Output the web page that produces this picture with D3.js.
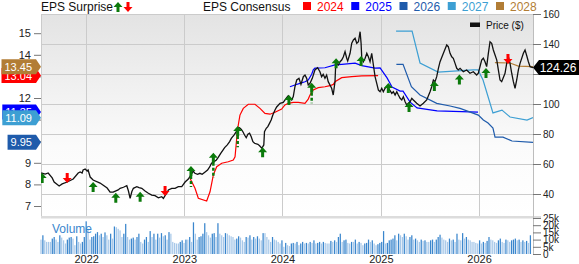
<!DOCTYPE html>
<html>
<head>
<meta charset="utf-8">
<style>
  body { margin: 0; background: #fff; }
  svg { display: block; font-family: "Liberation Sans", Arial, sans-serif; }
</style>
<script src="https://cdn.jsdelivr.net/npm/d3@7"></script>
</head>
<body>
<svg id="chart" width="579" height="264"></svg>
<script>
// Time is kept as decimal years
const price = [
  [2021.542,54.0],[2021.583,53.3],[2021.613,54.0],[2021.654,50.7],[2021.674,48.0],[2021.725,45.3],[2021.756,46.7],
  [2021.807,48.0],[2021.868,50.0],[2021.919,54.0],[2021.939,54.7],[2021.959,54.0],[2021.969,56.0],[2021.990,56.7],
  [2022.010,55.3],[2022.020,56.0],[2022.041,51.3],[2022.071,49.3],[2022.142,47.3],[2022.214,44.0],[2022.244,41.3],
  [2022.275,41.3],[2022.326,42.7],[2022.346,43.8],[2022.380,44.5],[2022.414,45.5],[2022.431,42.0],[2022.448,37.1],
  [2022.465,41.5],[2022.481,43.8],[2022.516,44.9],[2022.539,44.2],[2022.567,43.8],[2022.600,42.0],[2022.634,40.5],
  [2022.668,39.3],[2022.702,38.9],[2022.736,37.5],[2022.770,38.2],[2022.787,37.1],[2022.804,38.9],[2022.821,40.5],
  [2022.838,42.7],[2022.872,43.8],[2022.906,43.8],[2022.939,44.9],[2022.974,44.9],[2023.008,48.0],[2023.041,50.0],
  [2023.068,52.7],[2023.091,55.3],[2023.108,53.8],[2023.135,53.1],[2023.159,53.8],[2023.182,53.1],[2023.209,54.5],
  [2023.237,56.0],[2023.260,58.2],[2023.277,60.5],[2023.303,61.5],[2023.327,62.7],[2023.344,64.2],[2023.371,67.1],
  [2023.394,69.3],[2023.411,70.9],[2023.438,72.7],[2023.462,74.9],[2023.479,77.1],[2023.506,79.3],[2023.530,81.5],
  [2023.546,83.8],[2023.563,84.2],[2023.581,83.1],[2023.597,81.5],[2023.614,79.3],[2023.631,77.5],[2023.648,79.8],
  [2023.665,80.5],[2023.682,78.2],[2023.699,74.9],[2023.716,73.8],[2023.750,73.1],[2023.767,72.2],[2023.790,70.5],
  [2023.810,72.7],[2023.817,81.5],[2023.835,83.8],[2023.851,84.9],[2023.868,87.1],[2023.885,89.3],[2023.902,92.7],
  [2023.924,96.0],[2023.941,98.0],[2023.975,100.5],[2024.008,101.1],[2024.043,104.2],[2024.059,105.5],[2024.076,104.2],
  [2024.094,102.7],[2024.110,104.9],[2024.127,111.5],[2024.145,116.0],[2024.168,117.1],[2024.188,113.1],[2024.212,118.2],
  [2024.229,119.3],[2024.246,117.1],[2024.262,112.7],[2024.280,113.8],[2024.303,117.1],[2024.330,122.7],[2024.357,124.2],
  [2024.381,121.5],[2024.398,118.2],[2024.414,119.8],[2024.432,117.1],[2024.449,119.3],[2024.465,114.9],[2024.500,110.5],
  [2024.516,106.0],[2024.534,114.9],[2024.541,126.0],[2024.551,127.1],[2024.568,126.0],[2024.585,128.2],[2024.602,129.3],
  [2024.619,131.5],[2024.636,134.9],[2024.653,130.5],[2024.663,128.7],[2024.687,133.8],[2024.704,140.5],[2024.721,142.7],
  [2024.738,143.8],[2024.755,140.5],[2024.772,141.5],[2024.789,148.2],[2024.799,140.5],[2024.806,130.5],[2024.822,128.2],
  [2024.840,130.5],[2024.857,133.8],[2024.873,131.5],[2024.890,128.2],[2024.907,133.8],[2024.924,126.0],[2024.941,118.2],
  [2024.958,113.8],[2024.975,109.3],[2024.992,108.2],[2025.009,110.5],[2025.025,108.2],[2025.043,110.5],[2025.060,111.5],
  [2025.076,110.5],[2025.094,108.9],[2025.111,107.1],[2025.127,108.2],[2025.145,106.0],[2025.162,108.2],[2025.178,106.0],
  [2025.196,103.8],[2025.213,102.7],[2025.229,104.9],[2025.247,101.5],[2025.264,99.3],[2025.280,100.5],[2025.298,101.5],
  [2025.315,103.8],[2025.331,102.7],[2025.365,100.5],[2025.399,98.7],[2025.433,100.5],[2025.467,102.7],[2025.501,108.2],
  [2025.518,111.5],[2025.535,116.0],[2025.552,114.9],[2025.569,118.2],[2025.586,123.8],[2025.603,128.2],[2025.637,133.8],
  [2025.671,139.3],[2025.687,138.2],[2025.705,133.8],[2025.722,131.5],[2025.738,130.5],[2025.756,127.1],[2025.773,123.8],
  [2025.789,122.7],[2025.807,123.8],[2025.840,121.5],[2025.874,122.7],[2025.908,120.5],[2025.942,121.5],[2025.976,119.3],
  [2025.993,120.5],[2026.010,124.9],[2026.027,129.3],[2026.044,130.5],[2026.061,128.2],[2026.078,124.9],[2026.095,133.8],
  [2026.112,141.5],[2026.129,140.5],[2026.146,136.0],[2026.181,129.3],[2026.197,122.7],[2026.214,116.0],[2026.231,114.9],
  [2026.265,120.5],[2026.282,127.1],[2026.299,131.5],[2026.316,127.1],[2026.333,120.5],[2026.350,114.9],[2026.367,110.5],
  [2026.384,116.0],[2026.401,122.7],[2026.418,127.1],[2026.452,133.8],[2026.469,136.0],[2026.487,132.0],[2026.503,128.2],
  [2026.520,124.9],[2026.550,124.26]
];

// EPS consensus, one series per fiscal year
const eps2024 = [
  [2023.058,8.28],[2023.109,7.82],[2023.143,7.36],[2023.228,7.23],[2023.262,7.66],[2023.296,8.44],[2023.330,8.82],
  [2023.381,8.98],[2023.448,9.05],[2023.499,9.13],[2023.517,9.28],[2023.534,10.13],[2023.550,10.75],[2023.567,11.21],
  [2023.601,11.52],[2023.652,11.71],[2023.720,11.71],[2023.771,11.52],[2023.822,11.29],[2023.873,11.25],[2023.924,11.34],
  [2023.992,11.49],[2024.025,11.68],[2024.059,11.75],[2024.110,11.80],[2024.161,11.80],[2024.229,11.75],[2024.262,11.95],
  [2024.280,12.14],[2024.313,12.37],[2024.364,12.48],[2024.432,12.52],[2024.483,12.57],[2024.517,12.63],[2024.534,12.75],
  [2024.602,12.94],[2024.704,12.99],[2024.806,13.02],[2024.972,13.04]
];
const eps2025 = [
  [2024.076,12.52],[2024.127,12.60],[2024.178,12.68],[2024.229,12.75],[2024.262,12.83],[2024.297,13.10],[2024.313,13.30],
  [2024.330,13.38],[2024.432,13.40],[2024.534,13.53],[2024.602,13.56],[2024.738,13.61],[2024.806,13.50],[2024.941,13.38],
  [2024.992,13.39],[2025.063,12.93],[2025.114,12.51],[2025.196,12.32],[2025.226,12.32],[2025.298,11.81],[2025.369,11.54],
  [2025.573,11.40],[2025.990,11.35]
];
const eps2026 = [
  [2025.158,13.56],[2025.226,13.56],[2025.311,12.52],[2025.399,12.14],[2025.569,11.75],[2025.705,11.63],[2025.807,11.52],
  [2025.993,11.21],[2026.044,10.98],[2026.092,10.84],[2026.142,10.61],[2026.163,10.19],[2026.244,10.19],[2026.336,10.01],
  [2026.550,9.95]
];
const eps2027 = [
  [2025.155,15.10],[2025.318,15.10],[2025.399,13.62],[2025.583,13.20],[2025.939,13.30],[2025.990,13.30],[2026.041,12.83],
  [2026.142,11.31],[2026.234,11.44],[2026.316,11.12],[2026.489,10.98],[2026.550,11.09]
];
const eps2028 = [[2026.162,13.64],[2026.316,13.62],[2026.401,13.48],[2026.550,13.45]];

const consensusYears = ["2024", "2025", "2026", "2027", "2028"];
const consensusColors = ["#ff0000", "#0000ff", "#1f5bab", "#3d9fd3", "#b27d35"];
const consensusSeries = [eps2024, eps2025, eps2026, eps2027, eps2028];

// EPS surprise markers: [time, price level, beat/miss]
const surprises = [
  [2021.552,50.7,"beat"],[2021.807,50.7,"miss"],[2022.071,44.7,"beat"],[2022.302,37.5,"beat"],
  [2022.550,38.2,"beat"],[2022.804,42.0,"miss"],[2023.068,55.3,"beat"],[2023.296,64.2,"beat"],
  [2023.544,82.0,"beat"],[2023.798,67.8,"beat"],[2024.066,102.7,"beat"],[2024.297,110.9,"beat"],
  [2024.545,127.1,"beat"],[2024.799,128.7,"beat"],[2025.076,110.7,"beat"],[2025.287,98.0,"beat"],
  [2025.545,112.0,"beat"],[2025.800,116.4,"beat"],[2026.071,120.7,"beat"],[2026.295,130.0,"miss"]
];
// dashed tails under some markers: [time, start level, end level]
const surpriseTails = [[2023.068,55.3,44.7],[2023.296,64.2,50.7],[2023.544,82.0,71.2],[2024.297,110.9,100.5]];

// weekly volume in thousands
const volumeStart = "2021-07-17";
const volume = [
  10.0,13.0,9.5,8.4,8.4, 8.4,10.7,11.8,10.0,8.4,13.0,11.4, 9.5,7.3,10.0,11.4,11.8,10.7,6.1,12.3,8.4,
  7.3,8.4,11.8,22.7,17.5,10.0, 11.8,12.3,14.1,15.2,13.0,14.1,11.8,15.0,13.0, 10.0,14.1,10.7,19.1,18.6,17.5,16.4,11.8,
  14.1,20.9,11.8,10.0,10.7,11.4,10.0,11.8, 14.1,8.4,7.3,10.0,11.8,8.4,15.9,11.8,14.1, 10.0,14.1,11.4,14.5,12.3,13.0,10.0,15.2,14.1,
  8.4,7.7,7.3,7.3,8.4,9.5,7.7,10.0, 10.0,11.8,8.4,22.0,14.1,10.0,11.8,12.3, 14.1,21.4,15.2,13.0,11.4,14.1,14.5,11.8,
  21.4,14.1,13.0,11.8,14.5,14.1,13.0,12.3, 11.8,10.0,10.7,12.3,11.4,9.5,8.4,11.8, 11.4,13.0,10.0,11.8,10.7,12.3,10.7,9.5,
  14.5,14.5,11.8,10.0,8.4,11.8,10.0,9.5, 8.4,7.3,9.5,5.0,7.7,6.1,5.5,7.3, 7.7,7.3,8.4,6.1,7.3,8.4,7.3,7.7,
  7.3,8.4,7.7,9.5,7.3,7.7,8.4,7.3, 8.4,7.7,7.3,7.3,9.1,8.4,9.5,8.4, 11.8,14.1,8.4,9.5,10.0,7.7,7.3,8.4,
  8.4,10.0,7.3,8.4,7.7,6.1,7.3,7.7, 10.0,8.4,9.5,7.3,6.1,6.8,7.7,8.4, 15.9,7.3,7.7,9.5,10.0,10.7,13.0,9.5,
  14.1,13.0,11.8,14.1,12.3,10.0,11.8,13.0, 10.0,10.7,9.5,8.4,10.0,9.1,9.5,8.4, 8.4,9.5,10.0,8.4,10.0,11.8,13.4,11.4,
  10.0,9.5,8.4,10.7,9.5,10.0,8.4,14.1, 10.0,9.5,14.5,10.7,11.8,10.0,9.5,8.4, 8.4,7.7,7.3,9.5,7.3,8.4,7.7,9.1,
  11.8,10.0,9.5,8.4,7.7,9.5,10.7,8.4, 7.7,10.0,9.5,8.4,9.5,10.0,10.7,9.5, 10.0,8.4,9.5,8.4,9.1,7.7,13.0
];

const epsTicks = [7, 8, 9, 10, 11, 12, 13, 14, 15];
const priceTicks = [40, 60, 80, 100, 120, 140, 160];
const volumeTicks = [0, 5, 10, 15, 20, 25];

function yearToDate(t) {
  const y = Math.floor(t);
  const a = Date.UTC(y, 0, 1), b = Date.UTC(y + 1, 0, 1);
  return new Date(a + (t - y) * (b - a));
}

// Layout
const plotLeft = 41, plotRight = 533, plotTop = 14, priceBottom = 217, volTop = 218, volBottom = 254;
const svg = d3.select("#chart");

// Scales
const xScale = d3.scaleUtc().domain([yearToDate(2021.540), yearToDate(2026.550)]).range([plotLeft, plotRight]);
const yEps = d3.scaleLinear().domain([7, 15]).range([206, 33.2]);
const yPrice = d3.scaleLinear().domain([40, 160]).range([194, plotTop]);
const yVol = d3.scaleLinear().domain([0, 25]).range([volBottom, volTop]);

const lastEps = consensusSeries.map(s => s[s.length - 1][1]);
const lastPrice = price[price.length - 1][1];

// Background gradient of price panel
const defs = svg.append("defs");
const grad = defs.append("linearGradient").attr("id", "bg").attr("x1", 0).attr("y1", 0).attr("x2", 0).attr("y2", 1);
grad.append("stop").attr("offset", "0%").attr("stop-color", "#e3e3e3");
grad.append("stop").attr("offset", "65%").attr("stop-color", "#fbfbfb");
grad.append("stop").attr("offset", "100%").attr("stop-color", "#ffffff");
defs.append("clipPath").attr("id", "plotClip")
  .append("rect").attr("x", plotLeft).attr("y", plotTop).attr("width", plotRight - plotLeft).attr("height", priceBottom - plotTop);

svg.append("rect")
  .attr("x", plotLeft).attr("y", plotTop).attr("width", plotRight - plotLeft).attr("height", priceBottom - plotTop)
  .attr("fill", "url(#bg)");

// Grid
svg.append("g").selectAll("line")
  .data(priceTicks)
  .enter().append("line")
  .attr("x1", plotLeft).attr("x2", plotRight)
  .attr("y1", d => Math.round(yPrice(d)) + 0.5).attr("y2", d => Math.round(yPrice(d)) + 0.5)
  .attr("stroke", "#cbcbcb");

svg.append("g").selectAll("line")
  .data(xScale.ticks(d3.utcYear.every(1)))
  .enter().append("line")
  .attr("x1", d => Math.round(xScale(d)) + 0.5).attr("x2", d => Math.round(xScale(d)) + 0.5)
  .attr("y1", plotTop).attr("y2", priceBottom)
  .attr("stroke", "#cbcbcb");

svg.append("line").attr("x1", plotLeft + 0.5).attr("x2", plotLeft + 0.5).attr("y1", plotTop).attr("y2", priceBottom).attr("stroke", "#cbcbcb");
svg.append("rect").attr("x", plotLeft).attr("y", priceBottom - 1).attr("width", plotRight - plotLeft + 8).attr("height", 2.5).attr("fill", "#dcdcdc");

// Volume bars
const start = new Date(volumeStart + "T00:00:00Z");
svg.append("g").selectAll("rect")
  .data(volume)
  .enter().append("rect")
  .attr("x", (d, i) => xScale(d3.utcWeek.offset(start, i)) - 0.6)
  .attr("y", d => yVol(d))
  .attr("width", 1.25)
  .attr("height", d => volBottom - yVol(d))
  .attr("fill", (d, i) => i > 0 && d > volume[i - 1] ? "#3a86cd" : "#a7c8e9");

svg.append("text")
  .attr("x", 52).attr("y", 233)
  .attr("font-size", "12px").attr("fill", "#3a86cd")
  .text("Volume");

// Right axis line
svg.append("line").attr("x1", plotRight + 0.5).attr("x2", plotRight + 0.5).attr("y1", plotTop).attr("y2", volBottom).attr("stroke", "#bdbdbd");

// Axes
function styleAxis(g) {
  g.select(".domain").remove();
  g.selectAll(".tick line").attr("stroke", "#777");
  g.selectAll(".tick text").attr("fill", "#222");
  g.attr("font-family", null);
}

const epsAxis = svg.append("g")
  .attr("transform", `translate(${ plotLeft }, 0)`)
  .call(d3.axisLeft(yEps).tickValues(epsTicks).tickFormat(d3.format("d")).tickSize(7).tickPadding(3))
  .attr("font-size", 11)
  .call(styleAxis);
// labels that sit under a value badge are not visible
epsAxis.selectAll(".tick text")
  .filter(d => lastEps.some(v => Math.abs(yEps(v) - yEps(d)) < 8))
  .remove();

const priceAxis = svg.append("g")
  .attr("transform", `translate(${ plotRight }, 0)`)
  .call(d3.axisRight(yPrice).tickValues(priceTicks).tickSize(8).tickPadding(2))
  .attr("font-size", 10)
  .call(styleAxis);
priceAxis.selectAll(".tick text")
  .filter(d => Math.abs(yPrice(d) - yPrice(lastPrice)) < 8)
  .remove();

svg.append("g")
  .attr("transform", `translate(${ plotRight }, 0)`)
  .call(d3.axisRight(yVol).tickValues(volumeTicks).tickFormat(d => d ? d + "k" : "0").tickSize(8).tickPadding(2))
  .attr("font-size", 10)
  .call(styleAxis);

svg.append("g")
  .attr("transform", `translate(0, ${ volBottom })`)
  .call(d3.axisBottom(xScale).ticks(d3.utcYear.every(1)).tickFormat(d3.utcFormat("%Y")).tickSize(0).tickPadding(1.5))
  .attr("font-size", 11)
  .call(styleAxis);

// Lines
const plot = svg.append("g").attr("clip-path", "url(#plotClip)");
const epsLine = d3.line().x(d => xScale(yearToDate(d[0]))).y(d => yEps(d[1]));
const priceLine = d3.line().x(d => xScale(yearToDate(d[0]))).y(d => yPrice(d[1]));

plot.selectAll(".eps")
  .data(consensusSeries)
  .enter().append("path")
  .attr("class", "eps")
  .attr("d", epsLine)
  .attr("fill", "none")
  .attr("stroke", (d, i) => consensusColors[i])
  .attr("stroke-width", 1.2);

plot.append("path")
  .attr("d", priceLine(price))
  .attr("fill", "none")
  .attr("stroke", "#111")
  .attr("stroke-width", 1.3);

// Surprise markers
function arrowPath(cx, cy, up) {
  const s = up ? 1 : -1;
  return `M${ cx },${ cy - 5 * s} L${ cx + 4.5 },${ cy } L${ cx + 1.5 },${ cy } L${ cx + 1.5 },${ cy + 5 * s } ` +
    `L${ cx - 1.5 },${ cy + 5 * s } L${ cx - 1.5 },${ cy } L${ cx - 4.5 },${ cy } Z`;
}

plot.selectAll(".tail")
  .data(surpriseTails)
  .enter().append("line")
  .attr("x1", d => xScale(yearToDate(d[0]))).attr("x2", d => xScale(yearToDate(d[0])))
  .attr("y1", d => yPrice(d[1]) + 5).attr("y2", d => yPrice(d[2]))
  .attr("stroke", "#0b7a0b").attr("stroke-width", 2.5).attr("stroke-dasharray", "3,2");

plot.selectAll(".arrow")
  .data(surprises)
  .enter().append("path")
  .attr("d", d => arrowPath(xScale(yearToDate(d[0])), yPrice(d[1]), d[2] === "beat"))
  .attr("fill", d => d[2] === "beat" ? "#0b7a0b" : "#ff0000");

// Price legend inside plot
svg.append("rect").attr("x", 470).attr("y", 22.5).attr("width", 10).attr("height", 4.5).attr("fill", "#111");
svg.append("text").attr("x", 486).attr("y", 29).attr("font-size", "10px").attr("fill", "#111").text("Price ($)");

// Header legend
svg.append("text").attr("x", 41).attr("y", 11).attr("font-size", "12px").attr("fill", "#111").text("EPS Surprise");
svg.append("path").attr("d", arrowPath(118, 7, true)).attr("fill", "#0b7a0b");
svg.append("path").attr("d", arrowPath(128, 7, false)).attr("fill", "#ff0000");
svg.append("text").attr("x", 203).attr("y", 11).attr("font-size", "12px").attr("fill", "#111").text("EPS Consensus");

const legend = svg.append("g").selectAll("g")
  .data(consensusYears)
  .enter().append("g")
  .attr("transform", (d, i) => `translate(${ 303 + i * 48.25 }, 0)`);
legend.append("rect").attr("x", 0).attr("y", 2).attr("width", 8).attr("height", 8).attr("fill", (d, i) => consensusColors[i]);
legend.append("text").attr("x", 14).attr("y", 10.5).attr("font-size", "12px")
  .attr("fill", (d, i) => consensusColors[i]).text(d => d);

// Value badges on the left, last consensus values
lastEps.forEach((v, i) => {
  const cy = yEps(v);
  const g = svg.append("g");
  const badge = g.append("path").attr("fill", consensusColors[i]);
  const label = g.append("text")
    .attr("x", 32).attr("y", cy + 4)
    .attr("text-anchor", "end").attr("font-size", "11px").attr("fill", "#fff")
    .text(v.toFixed(2));
  const x0 = 32 - label.node().getComputedTextLength() - 3;
  badge.attr("d", `M${ x0 },${ cy - 7.5 } L36,${ cy - 7.5 } L41,${ cy } L36,${ cy + 7.5 } L${ x0 },${ cy + 7.5 } Z`);
});

// Last price badge on the right
const py = yPrice(lastPrice);
svg.append("path")
  .attr("d", `M${ plotRight },${ py } L${ plotRight + 6 },${ py - 7.5 } L579,${ py - 7.5 } L579,${ py + 7.5 } L${ plotRight + 6 },${ py + 7.5 } Z`)
  .attr("fill", "#000");
svg.append("text")
  .attr("x", 558).attr("y", py + 4.5)
  .attr("text-anchor", "middle").attr("font-size", "12px").attr("fill", "#fff")
  .text(lastPrice.toFixed(2));
</script>
</body>
</html>
